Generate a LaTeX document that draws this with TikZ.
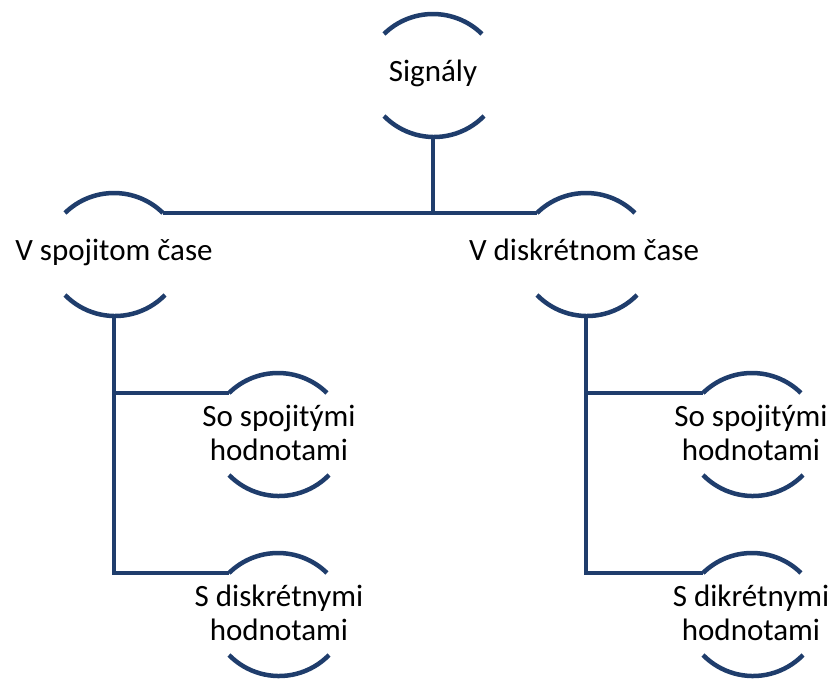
\documentclass[tikz,border=0pt]{standalone}
\usepackage{fontspec}
\setmainfont{Carlito}
\definecolor{navy}{HTML}{1F3D6C}
\newcommand\mkcap[3]{%
  \coordinate (#1-tl) at ({#2-49},{#3-41});
  \coordinate (#1-tr) at ({#2+49},{#3-41});
  \coordinate (#1-bl) at ({#2-49},{#3+41});
  \coordinate (#1-br) at ({#2+49},{#3+41});
  \coordinate (#1-top) at (#2,{#3-61});
  \coordinate (#1-bot) at (#2,{#3+61});
  \draw[conn] (#1-tl) arc[start angle=225.6,end angle=314.4,radius=70];
  \draw[conn] (#1-bl) arc[start angle=135.6,end angle=44.4,radius=70];
}
\begin{document}
\begin{tikzpicture}[x=1pt,y=-1pt,
  conn/.style={draw=navy,line width=4.5pt},
  lbl/.style={font=\fontsize{31}{33.5}\selectfont,align=center,inner sep=0pt,anchor=base,text=black}]
\useasboundingbox (0,0) rectangle (832,679);
\mkcap{sig}{433}{75}
\mkcap{L}{114}{254}
\mkcap{R}{586}{254}
\mkcap{LA}{278}{434}
\mkcap{LB}{278}{614}
\mkcap{RA}{752}{434}
\mkcap{RB}{752}{614}
\node[lbl] (sigt) at (433,82) {Signály};
\node[lbl] (Lt) at (114,260) {V spojitom čase};
\node[lbl] (Rt) at (584,260) {V diskrétnom čase};
\node[lbl] (LAt) at (279,460) {So spojitými\\hodnotami};
\node[lbl] (LBt) at (279,640) {S diskrétnymi\\hodnotami};
\node[lbl] (RAt) at (751,460) {So spojitými\\hodnotami};
\node[lbl] (RBt) at (751,640) {S dikrétnymi\\hodnotami};
\draw[conn] (sig-bot) -- (sig-bot |- L-tr);
\draw[conn] (L-tr) -- (R-tl);
\draw[conn] (L-bot) |- (LA-tl);
\draw[conn] (L-bot) |- (LB-tl);
\draw[conn] (R-bot) |- (RA-tl);
\draw[conn] (R-bot) |- (RB-tl);
\end{tikzpicture}
\end{document}
